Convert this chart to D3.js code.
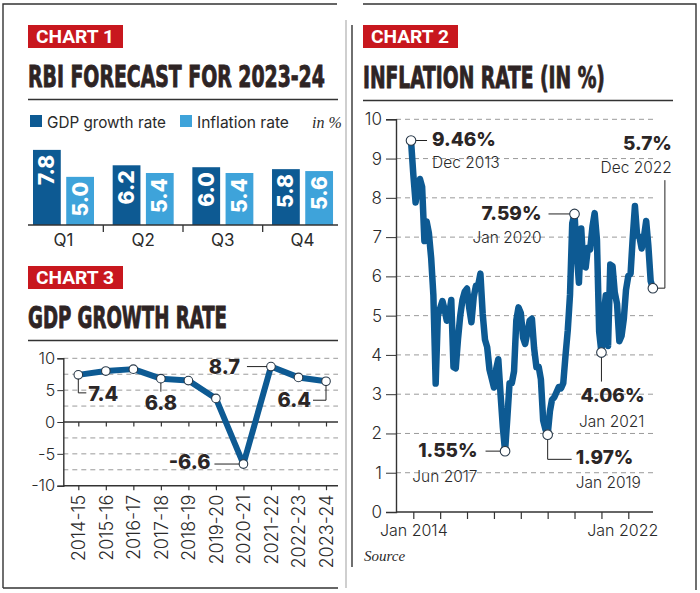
<!DOCTYPE html>
<html><head><meta charset="utf-8">
<script src="https://cdn.jsdelivr.net/npm/d3@7"></script>
<style>
html,body{margin:0;padding:0;background:#fff;}
svg{display:block;}
</style></head>
<body>
<script>
// ---------- DATA ----------
const quarters = ["Q1","Q2","Q3","Q4"];
const gdpForecast = [7.8, 6.2, 6.0, 5.8];
const inflationForecast = [5.0, 5.4, 5.4, 5.6];

const fiscalYears = ["2014-15","2015-16","2016-17","2017-18","2018-19","2019-20","2020-21","2021-22","2022-23","2023-24"];
const gdpGrowth = [7.4, 8.0, 8.3, 6.8, 6.5, 3.7, -6.6, 8.7, 7.0, 6.4];
const gdpTicks = [10, 5, 0, -5, -10];

const inflationStart = "2013-12";
const inflation = [
  9.46,
  8.60, 7.88, 8.25, 8.48, 8.28, 6.90, 7.40, 7.10, 6.46, 5.52, 3.27, 5.00,
  5.19, 5.37, 5.17, 4.87, 5.01, 5.40, 3.69, 3.66, 4.41, 5.00, 5.41, 5.61,
  5.69, 5.18, 4.83, 5.47, 5.76, 5.77, 6.07, 5.05, 4.39, 4.20, 3.63, 3.41,
  3.17, 3.65, 3.89, 2.99, 2.18, 1.55, 2.36, 3.28, 3.28, 3.58, 4.88, 5.21,
  5.07, 4.44, 4.28, 4.58, 4.87, 4.92, 4.17, 3.69, 3.70, 3.38, 2.33, 2.11,
  1.97, 2.57, 2.86, 2.92, 3.05, 3.18, 3.15, 3.28, 3.99, 4.62, 5.54, 7.35,
  7.59, 6.58, 5.84, 7.22, 6.27, 6.23, 6.73, 6.69, 7.27, 7.61, 6.93, 4.59,
  4.06, 5.03, 5.52, 4.23, 6.30, 6.26, 5.59, 5.30, 4.35, 4.48, 4.91, 5.66,
  6.01, 6.07, 6.95, 7.79, 7.04, 7.01, 6.71, 7.00, 7.41, 6.77, 5.88, 5.70
];
const inflationTickYears = [2014,2015,2016,2017,2018,2019,2020,2021,2022];
const inflationYTicks = [0,1,2,3,4,5,6,7,8,9,10];
const inflationNotes = [
  {date:"2013-12", value:"9.46%", sub:"Dec 2013"},
  {date:"2020-01", value:"7.59%", sub:"Jan 2020"},
  {date:"2022-12", value:"5.7%",  sub:"Dec 2022"},
  {date:"2021-01", value:"4.06%", sub:"Jan 2021"},
  {date:"2019-01", value:"1.97%", sub:"Jan 2019"},
  {date:"2017-06", value:"1.55%", sub:"Jun 2017"}
];

// ---------- STYLE ----------
const DARK = "#0d5a93", LIGHT = "#3ea3da", RED = "#c8171e", TITLE = "#2e2424", INK = "#2a2a2a";
const FONT = "Inter, Roboto, 'DejaVu Sans', sans-serif";
const TFONT = "'Liberation Sans Narrow','DejaVu Sans Condensed','Roboto Condensed',sans-serif";

const svg = d3.select("body").append("svg").attr("width",700).attr("height",593);
svg.append("rect").attr("width",700).attr("height",593).attr("fill","#fff");

// text fitted to a given width by horizontal scaling
function fitText(parent, x, y, w, label){
  const g = parent.append("g");
  const t = g.append("text").attr("x",0).attr("y",0).text(label);
  return {g, t, fit(){
    const w0 = t.node().getComputedTextLength();
    g.attr("transform",`translate(${x},${y}) scale(${w/w0},1)`);
    return t;
  }};
}

// frames
const frame = svg.append("g").attr("stroke","#333").attr("stroke-width",1.4).attr("fill","none");
frame.append("path").attr("d","M3,588V4H337");
frame.append("path").attr("d","M3,588H338");
frame.append("path").attr("d","M346,20V588").attr("stroke","#bbb");
frame.append("path").attr("d","M363,4H696V590");
frame.append("path").attr("d","M352,25V567");

function badge(x,y,w,label){
  svg.append("rect").attr("x",x).attr("y",y).attr("width",w).attr("height",23).attr("fill",RED);
  const f = fitText(svg, x+8, y+17.7, w-17, label);
  f.t.attr("fill","#fff").attr("font-family","Roboto, 'Liberation Sans', sans-serif")
    .attr("font-weight",700).attr("font-size",19);
  f.fit();
}
function title(x,y,w,label,lineEnd){
  const f = fitText(svg, x, y, w, label);
  f.t.attr("fill",TITLE).attr("stroke",TITLE).attr("stroke-width",0.9)
    .attr("font-family",TFONT).attr("font-weight",700).attr("font-size",31);
  f.fit();
  svg.append("line").attr("x1",x).attr("x2",lineEnd).attr("y1",y+12.5).attr("y2",y+12.5)
    .attr("stroke","#333").attr("stroke-width",1.3);
}

// ================= CHART 1 =================
badge(28,25,95,"CHART 1");
title(28,87,297,"RBI FORECAST FOR 2023-24",338);

// legend
const leg = svg.append("g").attr("font-family",FONT).attr("font-size",16).attr("fill",INK);
leg.append("rect").attr("x",30).attr("y",115).attr("width",12).attr("height",12).attr("fill",DARK);
fitText(leg,47,127.5,119,"GDP growth rate").fit();
leg.append("rect").attr("x",180).attr("y",115).attr("width",12).attr("height",12).attr("fill",LIGHT);
fitText(leg,197,127.5,92,"Inflation rate").fit();
leg.append("text").attr("x",312).attr("y",127.5).attr("font-family","'Liberation Serif','DejaVu Serif',serif")
  .attr("font-style","italic").attr("font-size",16).text("in %");

const x0 = d3.scaleBand().domain(quarters).range([23.65,342.35]);
const x1 = d3.scaleBand().domain(["gdp","inf"]).range([9.35,70.35]).paddingInner(0.164);
const y1 = d3.scaleLinear().domain([0,10]).range([225,128.7]);
const c1 = svg.append("g");
const barData = quarters.flatMap((q,i)=>[
  {q, k:"gdp", v:gdpForecast[i], c:DARK},
  {q, k:"inf", v:inflationForecast[i], c:LIGHT}
]);
const bars = c1.selectAll("g.bar").data(barData).join("g").attr("class","bar");
bars.append("rect")
  .attr("x",d=>x0(d.q)+x1(d.k)).attr("width",x1.bandwidth())
  .attr("y",d=>y1(d.v)).attr("height",d=>y1(0)-y1(d.v)).attr("fill",d=>d.c);
bars.append("text")
  .attr("transform",d=>`translate(${x0(d.q)+x1(d.k)+x1.bandwidth()/2+7.5},${y1(d.v)+5}) rotate(-90)`)
  .attr("text-anchor","end").attr("fill","#fff").attr("font-family",FONT).attr("font-weight",800)
  .attr("font-size",21).text(d=>d.v.toFixed(1));
// axis
const ax1 = c1.append("g").attr("transform","translate(0,225)")
  .call(d3.axisBottom(x0).tickSize(0).tickPadding(9));
ax1.select(".domain").remove();
ax1.selectAll("text").attr("font-family",FONT).attr("font-size",17).attr("fill",INK);
c1.append("line").attr("x1",28).attr("x2",338).attr("y1",225).attr("y2",225).attr("stroke","#333").attr("stroke-width",1.5);
c1.selectAll("line.sep").data(quarters.slice(1)).join("line").attr("class","sep")
  .attr("x1",d=>x0(d)).attr("x2",d=>x0(d)).attr("y1",225).attr("y2",232).attr("stroke","#333").attr("stroke-width",1.3);

// ================= CHART 3 =================
badge(28,266,95,"CHART 3");
title(28,328,199,"GDP GROWTH RATE",338);

const x3 = d3.scalePoint().domain(fiscalYears).range([78.3,326]);
const y3 = d3.scaleLinear().domain([-10,10]).range([485.7,358.3]);
const c3 = svg.append("g");
// grid
c3.selectAll("line.g").data([10,7.5,5,2.5,-2.5,-5,-7.5]).join("line").attr("class","g")
  .attr("x1",63.3).attr("x2",338).attr("y1",d=>y3(d)).attr("y2",d=>y3(d))
  .attr("stroke","#9a9a9a").attr("stroke-dasharray","5,4").attr("stroke-width",1);
// zero line & bottom line with ticks
[0,-10].forEach(v=>{
  const g = c3.append("g").attr("transform",`translate(0,${y3(v)})`)
    .call(d3.axisBottom(x3).tickSize(4.5).tickFormat(v===-10?null:""));
  g.select(".domain").remove();
  g.selectAll(".tick line").attr("stroke","#333").attr("stroke-width",1.2);
  c3.append("line").attr("x1",63.3).attr("x2",338).attr("y1",y3(v)).attr("y2",y3(v))
    .attr("stroke","#333").attr("stroke-width",1.4);
  if(v===-10){
    g.selectAll(".tick text").attr("transform","translate(0,9) rotate(-90)")
      .attr("text-anchor","end").attr("dy","0.36em").attr("x",0).attr("y",0)
      .attr("font-family",FONT).attr("font-weight",300).attr("font-size",18).attr("fill",INK);
  }
});
const ay3 = c3.append("g").attr("transform","translate(63.3,0)")
  .call(d3.axisLeft(y3).tickValues(gdpTicks).tickSize(6).tickPadding(2).tickFormat(d=>String(d)));
ay3.select(".domain").attr("stroke","#333").attr("stroke-width",1.4);
ay3.selectAll(".tick line").attr("stroke","#333");
ay3.selectAll("text").attr("font-family",FONT).attr("font-weight",300).attr("font-size",16.5).attr("fill",INK);

const gdpPts = fiscalYears.map((f,i)=>({f, v:gdpGrowth[i]}));
c3.append("path").datum(gdpPts)
  .attr("d",d3.line().x(d=>x3(d.f)).y(d=>y3(d.v)))
  .attr("fill","none").attr("stroke",DARK).attr("stroke-width",6).attr("stroke-linejoin","round");
c3.selectAll("circle").data(gdpPts).join("circle")
  .attr("cx",d=>x3(d.f)).attr("cy",d=>y3(d.v)).attr("r",4.3)
  .attr("fill","#fff").attr("stroke","#2a3a4a").attr("stroke-width",1.1);

// annotations chart 3
const lab3 = c3.append("g").attr("font-family",FONT).attr("font-weight",800).attr("font-size",20).attr("fill","#2b2626");
const lead = (g,pts)=>g.append("path").attr("d",d3.line()(pts)).attr("fill","none").attr("stroke","#222").attr("stroke-width",1);
function gp(i){return [x3(fiscalYears[i]), y3(gdpGrowth[i])];}
{ const [px,py]=gp(0); lead(c3,[[px,py+4],[px,py+18],[px+8,py+18]]);
  lab3.append("text").attr("x",px+10).attr("y",py+26).text(gdpGrowth[0].toFixed(1)); }
{ const [px,py]=gp(3); lead(c3,[[px,py+4],[px,py+13]]);
  lab3.append("text").attr("x",px).attr("y",py+31).attr("text-anchor","middle").text(gdpGrowth[3].toFixed(1)); }
{ const [px,py]=gp(7); lead(c3,[[px-24,py],[px-4,py]]);
  lab3.append("text").attr("x",px-31).attr("y",py+7).attr("text-anchor","end").text(gdpGrowth[7].toFixed(1)); }
{ const [px,py]=gp(6); lead(c3,[[px-29,py],[px-4,py]]);
  lab3.append("text").attr("x",px-33).attr("y",py+5).attr("text-anchor","end").text(gdpGrowth[6].toFixed(1)); }
{ const [px,py]=gp(9); lead(c3,[[px,py+4],[px,py+19],[px-13,py+19]]);
  lab3.append("text").attr("x",px-15).attr("y",py+26).attr("text-anchor","end").text(gdpGrowth[9].toFixed(1)); }

// ================= CHART 2 =================
badge(363,25,95,"CHART 2");
title(363,88,242,"INFLATION RATE (IN %)",673);

const parseM = d3.timeParse("%Y-%m");
const t0 = parseM(inflationStart);
const infPts = inflation.map((v,i)=>({d:d3.timeMonth.offset(t0,i), v}));
const x2 = d3.scaleTime().domain([new Date(2014,0,1), new Date(2022,0,1)]).range([413.3,628.3]);
const y2 = d3.scaleLinear().domain([0,10]).range([512,119.3]);
const c2 = svg.append("g");
c2.selectAll("line.g").data(inflationYTicks.filter(d=>d>0)).join("line").attr("class","g")
  .attr("x1",396).attr("x2",653).attr("y1",d=>y2(d)).attr("y2",d=>y2(d))
  .attr("stroke","#9a9a9a").attr("stroke-dasharray","5,4").attr("stroke-width",1);
const ay2 = c2.append("g").attr("transform","translate(396,0)")
  .call(d3.axisLeft(y2).tickValues(inflationYTicks).tickSize(10).tickPadding(4).tickFormat(d=>String(d)));
ay2.select(".domain").attr("stroke","#333").attr("stroke-width",1.4);
ay2.selectAll(".tick line").attr("stroke","#333");
ay2.selectAll("text").attr("font-family",FONT).attr("font-weight",300).attr("font-size",17).attr("fill",INK);
const ax2 = c2.append("g").attr("transform","translate(0,512)")
  .call(d3.axisBottom(x2).tickValues(inflationTickYears.map(y=>new Date(y,0,1))).tickSize(7).tickPadding(6)
    .tickFormat(d=>(d.getFullYear()===2014||d.getFullYear()===2022)?d3.timeFormat("Jan %Y")(d):""));
ax2.select(".domain").remove();
ax2.selectAll(".tick line").attr("stroke","#333").attr("stroke-width",1.2);
ax2.selectAll("text").attr("font-family",FONT).attr("font-weight",300).attr("font-size",16).attr("fill",INK);
ax2.selectAll(".tick:last-of-type text").attr("dx",-6);
c2.append("line").attr("x1",396).attr("x2",653).attr("y1",512).attr("y2",512).attr("stroke","#333").attr("stroke-width",1.4);

c2.append("path").datum(infPts)
  .attr("d",d3.line().x(d=>x2(d.d)).y(d=>y2(d.v)))
  .attr("fill","none").attr("stroke",DARK).attr("stroke-width",6.5).attr("stroke-linejoin","round");

const noteByDate = {};
inflationNotes.forEach(n=>{
  const d = parseM(n.date);
  const p = infPts.find(q=>+q.d===+d);
  noteByDate[n.date] = {n, px:x2(p.d), py:y2(p.v)};
});
const big = c2.append("g").attr("font-family",FONT).attr("font-weight",800).attr("font-size",19).attr("fill","#2b2626");
const small = c2.append("g").attr("font-family",FONT).attr("font-weight",300).attr("font-size",15.5).attr("fill",INK);
function note(key, leaderPts, bx, by, sy, anchor){
  const {n,px,py} = noteByDate[key];
  lead(c2, leaderPts(px,py));
  big.append("text").attr("x",bx(px)).attr("y",by(py)).attr("text-anchor",anchor).text(n.value);
  small.append("text").attr("x",bx(px)).attr("y",sy(py)).attr("text-anchor",anchor).text(n.sub);
}
note("2013-12",(x,y)=>[[x+4,y],[x+16,y]], x=>x+21, y=>y+5, y=>y+27, "start");
note("2020-01",(x,y)=>[[x-26,y],[x-4,y]], x=>x-33, y=>y+6, y=>y+29.5, "end");
note("2022-12",(x,y)=>[[x+4,y],[x+12,y],[x+12,y-108]], x=>x+19, y=>y-138, y=>y-115, "end");
note("2021-01",(x,y)=>[[x,y+4],[x,y+29]], x=>x+43, y=>y+49, y=>y+74, "end");
note("2019-01",(x,y)=>[[x,y+4],[x,y+24.7],[x+24,y+24.7]], x=>x+28, y=>y+29.4, y=>y+53.7, "start");
note("2017-06",(x,y)=>[[x-19.5,y],[x-4,y]], x=>x-27.5, y=>y+5.6, y=>y+30.6, "end");

c2.selectAll("circle").data(Object.values(noteByDate)).join("circle")
  .attr("cx",d=>d.px).attr("cy",d=>d.py).attr("r",4.8)
  .attr("fill","#fff").attr("stroke","#2a3a4a").attr("stroke-width",1.1);

svg.append("text").attr("x",364).attr("y",561).attr("font-family","'Liberation Serif','DejaVu Serif',serif")
  .attr("font-style","italic").attr("font-size",15).attr("fill",INK).text("Source");
</script>
</body></html>
